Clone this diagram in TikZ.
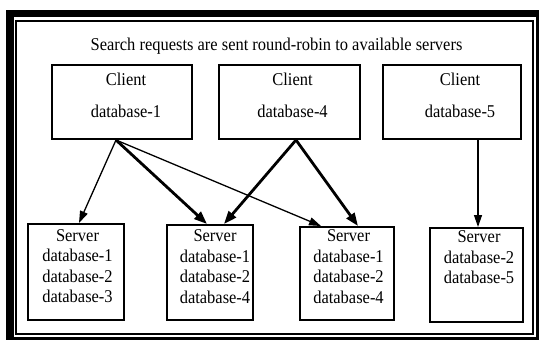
\documentclass[tikz,border=0pt]{standalone}
\usepackage{fontspec}
\setmainfont{Liberation Serif}[FakeStretch=0.915]
\usetikzlibrary{arrows.meta}
\begin{document}
\begin{tikzpicture}[x=1pt,y=-1pt,
  box/.style={draw, line width=2pt, inner sep=0pt, anchor=north west},
  lbl/.style={font=\fontsize{18}{20.5}\selectfont, inner sep=0pt, align=center},
  clbl/.style={font=\fontsize{18}{32}\selectfont, inner sep=0pt, align=center, anchor=north},
  slbl/.style={lbl, anchor=north},
  lite/.style={line width=1.3pt, -{Triangle[length=12pt,width=8pt]}},
  bold/.style={line width=2.8pt, -{Triangle[length=13pt,width=9.5pt]}}]

% page and double frame
\useasboundingbox (0,0) rectangle (541,341);
\fill (6,10) rectangle (539,340);
\fill[white] (14,17) rectangle (536,337.3);
\draw[line width=2pt] (16.3,20.8) rectangle (533.3,334.3);

% heading
\node[lbl, anchor=base] (title) at (276.5,50) {Search requests are sent round-robin to available servers};

% clients
\node[box, minimum width=140pt, minimum height=74pt] (c1) at (51,64) {};
\node[box, minimum width=141pt, minimum height=74pt] (c2) at (218,64) {};
\node[box, minimum width=138pt, minimum height=74pt] (c3) at (382,64) {};
\node[clbl] (c1t) at ([xshift=4pt,yshift=-8.7pt]c1.north) {Client\\database-1};
\node[clbl] (c2t) at ([xshift=3pt,yshift=-8.7pt]c2.north) {Client\\database-4};
\node[clbl] (c3t) at ([xshift=8pt,yshift=-8.7pt]c3.north) {Client\\database-5};

% servers
\node[box, minimum width=96pt, minimum height=96pt] (s1) at (27,223) {};
\node[box, minimum width=86pt, minimum height=95pt] (s2) at (166,224) {};
\node[box, minimum width=94pt, minimum height=93pt] (s3) at (299,226) {};
\node[box, minimum width=93pt, minimum height=94pt] (s4) at (429,227) {};
\node[slbl] (s1t) at ([xshift=1.5pt,yshift=-6.3pt]s1.north) {Server\\database-1\\database-2\\database-3};
\node[slbl] (s2t) at ([xshift=5pt,yshift=-5.5pt]s2.north) {Server\\database-1\\database-2\\database-4};
\node[slbl] (s3t) at ([xshift=1.5pt,yshift=-3.5pt]s3.north) {Server\\database-1\\database-2\\database-4};
\node[slbl] (s4t) at ([xshift=2.5pt,yshift=-3.8pt]s4.north) {Server\\database-2\\database-5};

% round-robin request paths
\draw[lite] ([xshift=-6pt]c1.south) -- ([xshift=3pt]s1.north);
\draw[bold] ([xshift=-6pt]c1.south) -- ([xshift=-3pt]s2.north);
\draw[lite] ([xshift=-6pt]c1.south) -- ([xshift=-26pt]s3.north);
\draw[bold] ([xshift=6.5pt]c2.south) -- ([xshift=14pt]s2.north);
\draw[bold] ([xshift=6.5pt]c2.south) -- ([xshift=11pt]s3.north);
\draw[lite] ([xshift=26pt]c3.south) -- ([xshift=1.5pt]s4.north);
\end{tikzpicture}
\end{document}
